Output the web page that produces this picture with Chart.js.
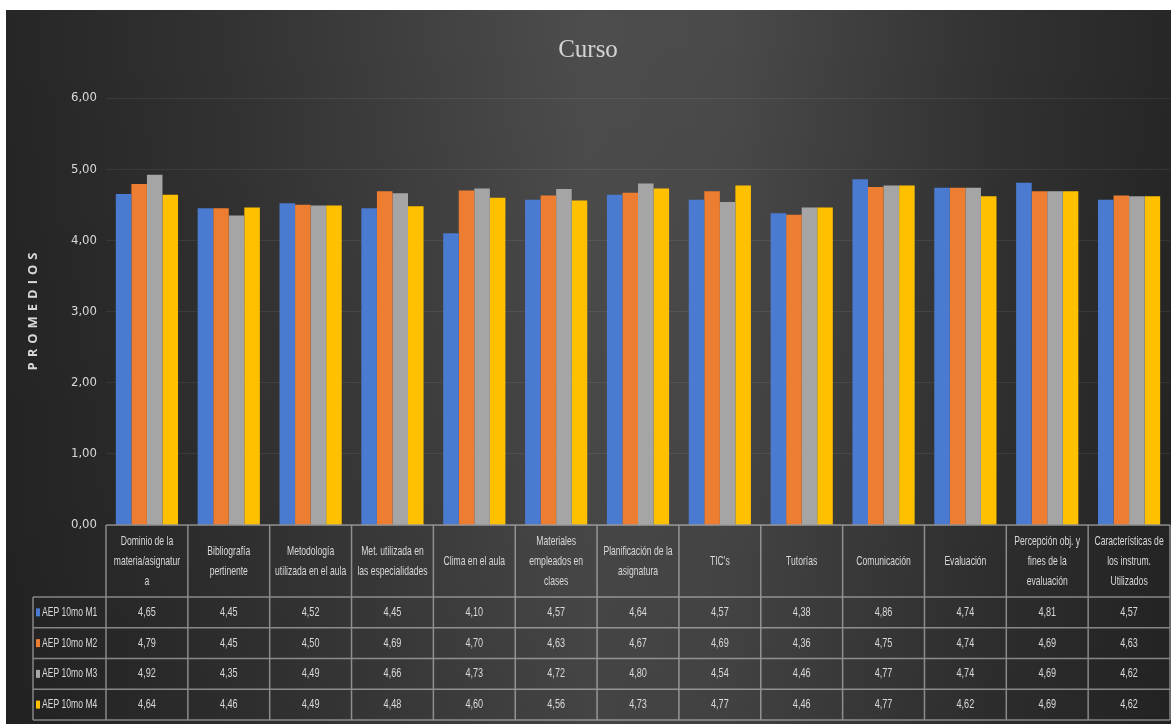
<!DOCTYPE html>
<html><head><meta charset="utf-8">
<script src="https://cdn.jsdelivr.net/npm/chart.js@4/dist/chart.umd.min.js"></script>
<style>html,body{margin:0;padding:0;background:#fff;overflow:hidden}#wrap{width:1171px;height:725px;position:relative}</style>
</head><body><div id="wrap"><canvas id="c" width="1171" height="725"></canvas></div>
<script>
const categories = [
  ['Dominio de la','materia/asignatur','a'],
  ['Bibliografía','pertinente'],
  ['Metodología','utilizada en el aula'],
  ['Met. utilizada en','las especialidades'],
  ['Clima en el aula'],
  ['Materiales','empleados en','clases'],
  ['Planificación de la','asignatura'],
  ["TIC's"],
  ['Tutorías'],
  ['Comunicación'],
  ['Evaluación'],
  ['Percepción obj. y','fines de la','evaluación'],
  ['Características de','los instrum.','Utilizados']
];
const seriesNames = ['AEP 10mo M1','AEP 10mo M2','AEP 10mo M3','AEP 10mo M4'];
const m1 = [4.65,4.45,4.52,4.45,4.10,4.57,4.64,4.57,4.38,4.86,4.74,4.81,4.57];
const m2 = [4.79,4.45,4.50,4.69,4.70,4.63,4.67,4.69,4.36,4.75,4.74,4.69,4.63];
const m3 = [4.92,4.35,4.49,4.66,4.73,4.72,4.80,4.54,4.46,4.77,4.74,4.69,4.62];
const m4 = [4.64,4.46,4.49,4.48,4.60,4.56,4.73,4.77,4.46,4.77,4.62,4.69,4.62];
const yTicks = [0,1,2,3,4,5,6];
const colors = ['#4a7bd0','#ed7d31','#a5a5a5','#ffc000'];
const chartTitle = 'Curso';
const yTitle = 'PROMEDIOS';

const series = [m1,m2,m3,m4];
const fmt = v => v.toFixed(2).replace('.', ',');
const txtColor = '#d9d9d9';
const lineColor = 'rgba(215,215,215,0.55)';

function scaledText(ctx, t, x, y, sx, align) {
  ctx.save();
  ctx.translate(x, y);
  ctx.scale(sx, 1);
  ctx.textAlign = align || 'center';
  ctx.fillText(t, 0, 0);
  ctx.restore();
}

const bgPlugin = {
  id: 'bg',
  beforeDraw(chart) {
    const ctx = chart.ctx, W = chart.width, H = chart.height;
    ctx.save();
    ctx.fillStyle = '#ffffff';
    ctx.fillRect(0, 0, W, H);
    const g = ctx.createLinearGradient(6, 0, W, 0);
    g.addColorStop(0, '#262626');
    g.addColorStop(0.2, '#333333');
    g.addColorStop(0.5, '#4d4d4d');
    g.addColorStop(0.62, '#4a4a4a');
    g.addColorStop(0.85, '#323232');
    g.addColorStop(1, '#272727');
    ctx.fillStyle = g;
    ctx.fillRect(6, 10, W - 6, H - 11);
    const v = ctx.createLinearGradient(0, 10, 0, H);
    v.addColorStop(0, 'rgba(0,0,0,0)');
    v.addColorStop(1, 'rgba(0,0,0,0.12)');
    ctx.fillStyle = v;
    ctx.fillRect(6, 10, W - 6, H - 11);
    ctx.restore();
  }
};

const tablePlugin = {
  id: 'table',
  afterDraw(chart) {
    const ctx = chart.ctx, ca = chart.chartArea, xs = chart.scales.x;
    const n = categories.length;
    const centers = categories.map((c, i) => xs.getPixelForValue(i));
    const half = (centers[1] - centers[0]) / 2;
    const bounds = [centers[0] - half].concat(centers.map(c => c + half));
    const top = ca.bottom, headH = 72, rowH = 30.75;
    const rowTops = [0,1,2,3,4].map(r => top + headH + r * rowH);
    const legL = 33;
    ctx.save();
    ctx.strokeStyle = lineColor;
    ctx.lineWidth = 1.5;
    ctx.beginPath();
    ctx.moveTo(bounds[0], top); ctx.lineTo(bounds[n], top);
    rowTops.forEach(y => { ctx.moveTo(legL, y); ctx.lineTo(bounds[n], y); });
    bounds.forEach(b => { ctx.moveTo(b, top); ctx.lineTo(b, rowTops[4]); });
    ctx.moveTo(legL, rowTops[0]); ctx.lineTo(legL, rowTops[4]);
    ctx.stroke();

    ctx.fillStyle = txtColor;
    ctx.textBaseline = 'middle';
    ctx.font = '13px "Liberation Sans", Arial, sans-serif';
    const lh = 20, hc = top + headH / 2;
    categories.forEach((lines, i) => {
      const y0 = hc - (lines.length - 1) * lh / 2;
      lines.forEach((t, k) => scaledText(ctx, t, centers[i], y0 + k * lh, 0.66));
    });
    ctx.font = '13px "Liberation Sans", Arial, sans-serif';
    series.forEach((arr, r) => {
      const yc = rowTops[r] + rowH / 2;
      arr.forEach((v, i) => scaledText(ctx, fmt(v), centers[i], yc, 0.7));
      ctx.fillStyle = colors[r];
      ctx.fillRect(36, yc - 4, 4, 8);
      ctx.fillStyle = txtColor;
      scaledText(ctx, seriesNames[r], 42, yc, 0.66, 'left');
    });

    // y axis title
    ctx.save();
    ctx.translate(33, (ca.top + ca.bottom) / 2);
    ctx.rotate(-Math.PI / 2);
    ctx.font = 'bold 13px "Open Sans", "DejaVu Sans", sans-serif';
    const w = ctx.measureText(yTitle).width;
    const sp = Math.max(0, (118 - w) / (yTitle.length - 1));
    ctx.letterSpacing = sp + 'px';
    ctx.textAlign = 'center';
    ctx.fillText(yTitle, sp / 2, 0);
    ctx.restore();
    ctx.restore();
  }
};

new Chart(document.getElementById('c'), {
  type: 'bar',
  data: {
    labels: categories,
    datasets: series.map((arr, i) => ({
      label: seriesNames[i],
      data: arr,
      backgroundColor: colors[i],
      borderWidth: 0,
      categoryPercentage: 0.76,
      barPercentage: 1.0
    }))
  },
  options: {
    responsive: false,
    animation: false,
    layout: { padding: { top: 10, left: 6, right: 1, bottom: 200 } },
    plugins: {
      legend: { display: false },
      tooltip: { enabled: false },
      title: {
        display: true, text: chartTitle, color: '#d4d4d4',
        font: { family: '"Liberation Serif", "DejaVu Serif", serif', size: 25, weight: 'normal', lineHeight: 1.2 },
        padding: { top: 25, bottom: 33 }
      }
    },
    scales: {
      x: { display: false },
      y: {
        min: 0, max: 6,
        afterBuildTicks: s => { s.ticks = yTicks.map(v => ({ value: v })); },
        afterFit: s => { s.width = 100; },
        border: { display: false },
        grid: { color: 'rgba(255,255,255,0.07)', drawTicks: false, lineWidth: 1 },
        ticks: {
          padding: 9, color: txtColor,
          font: { family: '"Liberation Sans Narrow", "DejaVu Sans Condensed", "Liberation Sans", sans-serif', size: 13 },
          callback: v => fmt(v)
        }
      }
    }
  },
  plugins: [bgPlugin, tablePlugin]
});
</script></body></html>
